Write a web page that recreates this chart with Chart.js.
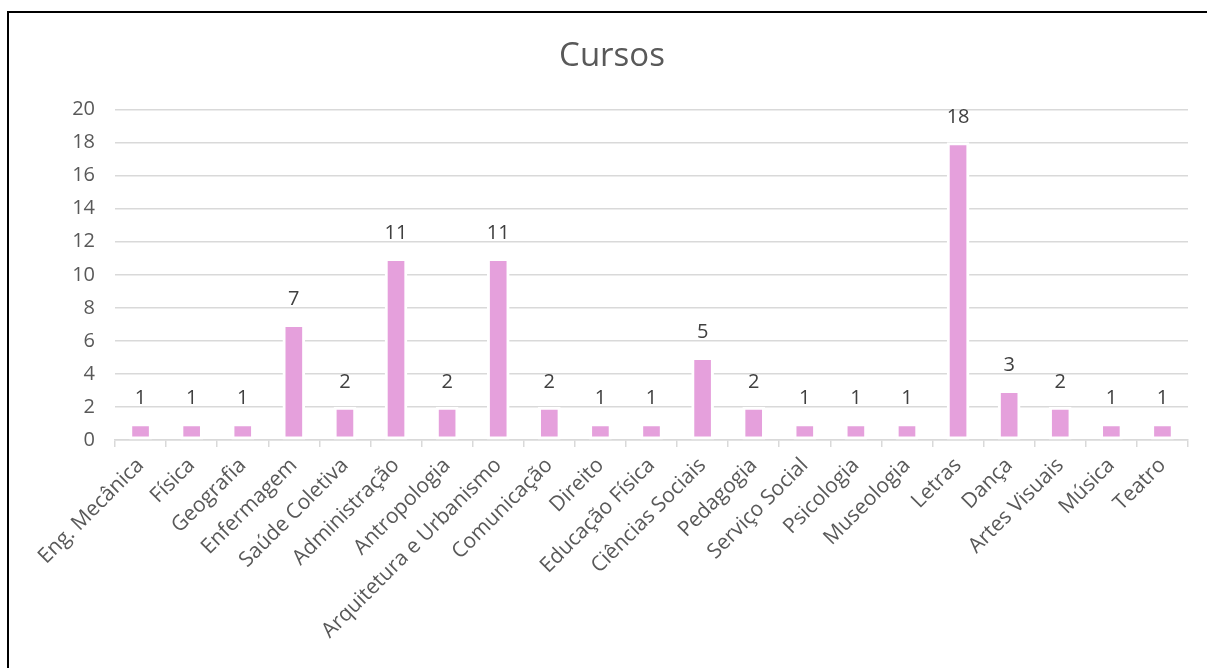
<!DOCTYPE html>
<html>
<head>
<meta charset="utf-8">
<script src="https://cdn.jsdelivr.net/npm/chart.js@4.4.1/dist/chart.umd.min.js"></script>
<style>
    html, body { margin: 0; padding: 0; background: #ffffff; overflow: hidden; }
    #wrap { position: relative; width: 1207px; height: 668px; }
    #frame { position: absolute; left: 7px; top: 11px; width: 1210px; height: 680px;
             border-top: 2px solid #000; border-left: 2px solid #000; box-sizing: border-box; }
    canvas { position: absolute; left: 0; top: 0; }
</style>
</head>
<body>
<div id="wrap">
    <div id="frame"></div>
    <canvas id="cursosChart" width="1207" height="668"></canvas>
</div>
<script>
const categories = ['Eng. Mecânica', 'Física', 'Geografia', 'Enfermagem', 'Saúde Coletiva', 'Administração',
    'Antropologia', 'Arquitetura e Urbanismo', 'Comunicação', 'Direito', 'Educação Física', 'Ciências Sociais',
    'Pedagogia', 'Serviço Social', 'Psicologia', 'Museologia', 'Letras', 'Dança', 'Artes Visuais', 'Música', 'Teatro'];
const counts = [1, 1, 1, 7, 2, 11, 2, 11, 2, 1, 1, 5, 2, 1, 1, 1, 18, 3, 2, 1, 1];
const yTicks = [0, 2, 4, 6, 8, 10, 12, 14, 16, 18, 20];

const FONT = "'Open Sans', 'Liberation Sans', Arial, sans-serif";

// draws the value above each bar
const valueLabels = {
    id: 'valueLabels',
    afterDatasetsDraw(chart) {
        const ctx = chart.ctx;
        const meta = chart.getDatasetMeta(0);
        ctx.save();
        ctx.font = '20px ' + FONT;
        ctx.fillStyle = '#404040';
        ctx.textAlign = 'center';
        ctx.textBaseline = 'middle';
        meta.data.forEach((bar, i) => {
            ctx.fillText(String(counts[i]), bar.x, bar.y - 25);
        });
        ctx.restore();
    }
};

function start() {
    const ctx = document.getElementById('cursosChart');
    new Chart(ctx, {
        type: 'bar',
        data: {
            labels: categories,
            datasets: [{
                label: 'Cursos',
                data: counts,
                backgroundColor: '#E5A0DC',
                borderColor: '#ffffff',
                borderWidth: 3,
                borderSkipped: false,
                barThickness: 22
            }]
        },
        options: {
            responsive: false,
            animation: false,
            layout: { padding: { left: 36, right: 19, top: 0, bottom: 0 } },
            scales: {
                x: {
                    afterFit: (s) => { s.height = 228; },
                    grid: {
                        offset: true,
                        drawOnChartArea: false,
                        drawTicks: true,
                        tickLength: 7,
                        color: '#D9D9D9',
                        lineWidth: 1.5
                    },
                    border: { color: '#D9D9D9', width: 1.5 },
                    ticks: {
                        autoSkip: false,
                        minRotation: 45,
                        maxRotation: 45,
                        padding: 6,
                        color: '#595959',
                        font: { family: FONT, size: 21 }
                    }
                },
                y: {
                    min: 0,
                    max: 20,
                    afterFit: (s) => { s.width = 79; },
                    afterBuildTicks: (s) => { s.ticks = yTicks.map(v => ({ value: v })); },
                    grid: {
                        color: '#D9D9D9',
                        lineWidth: 1.5,
                        drawTicks: false
                    },
                    border: { display: false },
                    ticks: {
                        padding: 20,
                        color: '#595959',
                        font: { family: FONT, size: 20 }
                    }
                }
            },
            plugins: {
                legend: { display: false },
                tooltip: { enabled: false },
                title: {
                    display: true,
                    text: 'Cursos',
                    color: '#595959',
                    font: { family: FONT, size: 33, weight: 'normal', lineHeight: 1.2 },
                    padding: { top: 37, bottom: 33 }
                }
            }
        },
        plugins: [valueLabels]
    });
}

window.onload = start;
</script>
</body>
</html>
